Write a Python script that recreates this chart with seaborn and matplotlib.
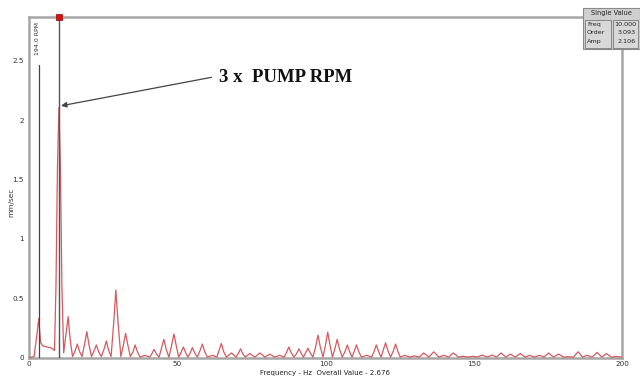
import matplotlib
matplotlib.use("Agg")
import matplotlib.pyplot as plt
import matplotlib.patches as mpatches
import seaborn as sns

# ---- data (vertices of the spectrum) ----
freq = [0.0, 1.6, 2.6, 3.2, 3.8, 4.5, 6.0, 7.6, 8.5, 9.0, 9.5, 10.0, 10.5, 11.0, 11.6,
        12.4, 13.1, 13.8, 14.6, 15.5, 16.2, 17.0, 17.8, 18.7, 19.4, 20.2, 21.0, 21.9,
        22.6, 23.4, 24.3, 25.2, 26.0, 26.8, 27.6, 28.5, 29.2, 30.0, 30.9, 31.7, 32.5,
        33.3, 34.1, 35.0, 35.7, 36.5, 37.4, 39.0, 40.6, 41.4, 42.1, 42.9, 43.8, 44.6,
        45.4, 46.2, 47.1, 48.0, 48.8, 49.6, 50.4, 51.2, 52.0, 52.8, 53.5, 54.3, 55.0,
        55.8, 56.7, 57.6, 58.4, 59.2, 60.1, 61.8, 63.3, 64.0, 64.8, 65.6, 66.5, 68.2,
        69.8, 70.5, 71.3, 72.1, 72.9, 74.4, 76.1, 77.8, 79.5, 81.1, 82.8, 84.5, 86.0,
        86.8, 87.6, 88.4, 89.3, 90.2, 91.0, 91.8, 92.5, 93.2, 94.0, 94.8, 95.7, 96.6,
        97.4, 98.2, 99.1, 99.9, 100.7, 101.5, 102.3, 103.1, 103.9, 104.7, 105.6, 106.5,
        107.3, 108.1, 108.9, 109.6, 110.4, 111.2, 112.1, 113.8, 115.5, 116.3, 117.1,
        117.9, 118.7, 119.4, 120.2, 121.0, 121.9, 122.8, 123.6, 124.4, 125.2, 126.7,
        128.4, 130.0, 131.6, 133.1, 134.8, 136.5, 138.2, 139.9, 141.5, 143.1, 144.8,
        146.4, 148.0, 149.6, 151.2, 152.8, 154.5, 156.2, 157.7, 159.2, 160.8, 162.3,
        164.0, 165.7, 167.3, 168.8, 170.5, 172.2, 173.7, 175.2, 176.9, 178.6, 180.3,
        181.9, 183.6, 185.2, 186.7, 188.2, 189.9, 191.6, 193.2, 194.7, 196.4, 198.0,
        200.0]
amp = [0.0, 0.01, 0.2, 0.33, 0.13, 0.1, 0.09, 0.08, 0.06, 0.6, 1.6, 2.106, 1.6, 0.6, 0.04,
       0.2, 0.345, 0.15, 0.01, 0.06, 0.115, 0.05, 0.01, 0.12, 0.22, 0.1, 0.01, 0.06,
       0.107, 0.05, 0.01, 0.07, 0.14, 0.06, 0.01, 0.3, 0.57, 0.28, 0.01, 0.1, 0.205,
       0.1, 0.01, 0.05, 0.107, 0.05, 0.005, 0.02, 0.005, 0.035, 0.07, 0.03, 0.005, 0.08,
       0.155, 0.07, 0.005, 0.1, 0.2, 0.1, 0.005, 0.045, 0.09, 0.04, 0.005, 0.04, 0.085,
       0.04, 0.005, 0.06, 0.115, 0.05, 0.005, 0.02, 0.005, 0.06, 0.12, 0.05, 0.005, 0.04,
       0.005, 0.035, 0.075, 0.03, 0.005, 0.035, 0.005, 0.04, 0.005, 0.03, 0.005, 0.02, 0.005,
       0.045, 0.09, 0.04, 0.005, 0.035, 0.075, 0.035, 0.005, 0.04, 0.08, 0.04, 0.005, 0.09,
       0.19, 0.09, 0.005, 0.1, 0.215, 0.1, 0.005, 0.075, 0.155, 0.07, 0.005, 0.05,
       0.107, 0.05, 0.005, 0.05, 0.107, 0.05, 0.005, 0.02, 0.005, 0.05, 0.107,
       0.05, 0.005, 0.06, 0.125, 0.06, 0.005, 0.055, 0.115, 0.05, 0.005, 0.02,
       0.005, 0.015, 0.005, 0.04, 0.005, 0.05, 0.005, 0.02, 0.005, 0.04, 0.005,
       0.012, 0.005, 0.012, 0.005, 0.022, 0.005, 0.022, 0.005, 0.04, 0.005, 0.03,
       0.005, 0.035, 0.005, 0.02, 0.005, 0.02, 0.005, 0.04, 0.005, 0.03, 0.005,
       0.008, 0.005, 0.05, 0.005, 0.02, 0.005, 0.045, 0.005, 0.035, 0.005, 0.01,
       0.005]

rpm_freq = 3.233
cursor_freq = 10.0
cursor_amp = 2.106
x_ticks = [0, 50, 100, 150, 200]
y_ticks = [0, 0.5, 1, 1.5, 2, 2.5]
y_ticklabels = ["0", "0.5", "1", "1.5", "2", "2.5"]
box_rows = [("Freq", "10.000"), ("Order", "3.093"), ("Amp", "2.106")]

sns.set_style("white")
plt.rcParams['font.family'] = ['DejaVu Sans']

W, H = 640, 378
fig = plt.figure(figsize=(6.4, 3.78), dpi=100)
ax = fig.add_axes([29.3 / W, 1 - 357.7 / H, (622 - 29.3) / W, (357.7 - 17.3) / H])

YMAX = 2.865
sns.lineplot(x=freq, y=amp, ax=ax, color="#d35a5f", linewidth=0.9, sort=False, zorder=3)

ax.set_xlim(0, 200)
ax.set_ylim(0, YMAX)
ax.set_xticks(x_ticks)
ax.set_xticklabels([str(t) for t in x_ticks])
ax.set_yticks(y_ticks)
ax.set_yticklabels(y_ticklabels)
ax.tick_params(direction="out", length=3, width=0.7, colors="#666666",
               labelsize=5.2, labelcolor="#333333", pad=1)
ax.tick_params(axis="x", length=2, pad=0.5)
for s in ax.spines.values():
    s.set_color("#a6a6a6")
    s.set_linewidth(1.8)


def fx(x):
    return x / W


def fy(y):
    return 1 - y / H


fig.text(fx(325), fy(373.5), "Frequency - Hz  Overall Value - 2.676", fontsize=5,
         color="#222222", ha="center", va="center")
ax.text(-0.03, 0.455, "mm/sec", transform=ax.transAxes, rotation=90,
        fontsize=5.3, color="#333333", ha="center", va="center")

# RPM marker line
ax.plot([rpm_freq, rpm_freq], [0, 2.46], color="#444444", linewidth=0.9, zorder=4)
ax.text(2.9, 2.69, "194.0 RPM", rotation=90, fontsize=4.5, color="#333333",
        ha="center", va="center")

# cursor
ax.plot([cursor_freq, cursor_freq], [0, YMAX], color="#555555", linewidth=1.0, zorder=4)
ax.plot([cursor_freq], [YMAX], marker="s", markersize=4.5, color="#e01010",
        markeredgecolor="#900000", markeredgewidth=0.5, clip_on=False, zorder=6)

# annotation
ax.annotate("", xy=(10.7, 2.12), xytext=(61.5, 2.36),
            arrowprops=dict(arrowstyle="-|>", color="#444444", lw=0.9,
                            mutation_scale=8, shrinkA=0, shrinkB=0))
ax.text(64.0, 2.355, "3 x  PUMP RPM", fontsize=13.5, fontweight="bold",
        family=["Liberation Serif", "DejaVu Serif"], color="#111111",
        ha="left", va="center")

# single value box (figure pixel coordinates)
outer = mpatches.Rectangle((fx(583), fy(49)), fx(640) - fx(583), fy(8) - fy(49),
                           transform=fig.transFigure, facecolor="#cfcfcf",
                           edgecolor="#8a8a8a", linewidth=0.8, zorder=10)
fig.patches.append(outer)
for (x0, x1) in [(585, 611), (613, 638)]:
    r = mpatches.Rectangle((fx(x0), fy(47.5)), fx(x1) - fx(x0), fy(19.5) - fy(47.5),
                           transform=fig.transFigure, facecolor="#d8d8d8",
                           edgecolor="#7a7a7a", linewidth=0.6, zorder=11)
    fig.patches.append(r)
fig.text(fx(611.5), fy(13.5), "Single Value", fontsize=4.8, color="#222222",
         ha="center", va="center", zorder=12)
for i, (k, v) in enumerate(box_rows):
    yy = fy(24.5 + i * 8.5)
    fig.text(fx(587), yy, k, fontsize=4.6, color="#222222", ha="left", va="center", zorder=12)
    fig.text(fx(636), yy, v, fontsize=4.6, color="#222222", ha="right", va="center", zorder=12)

fig.savefig("out.png", dpi=100)
